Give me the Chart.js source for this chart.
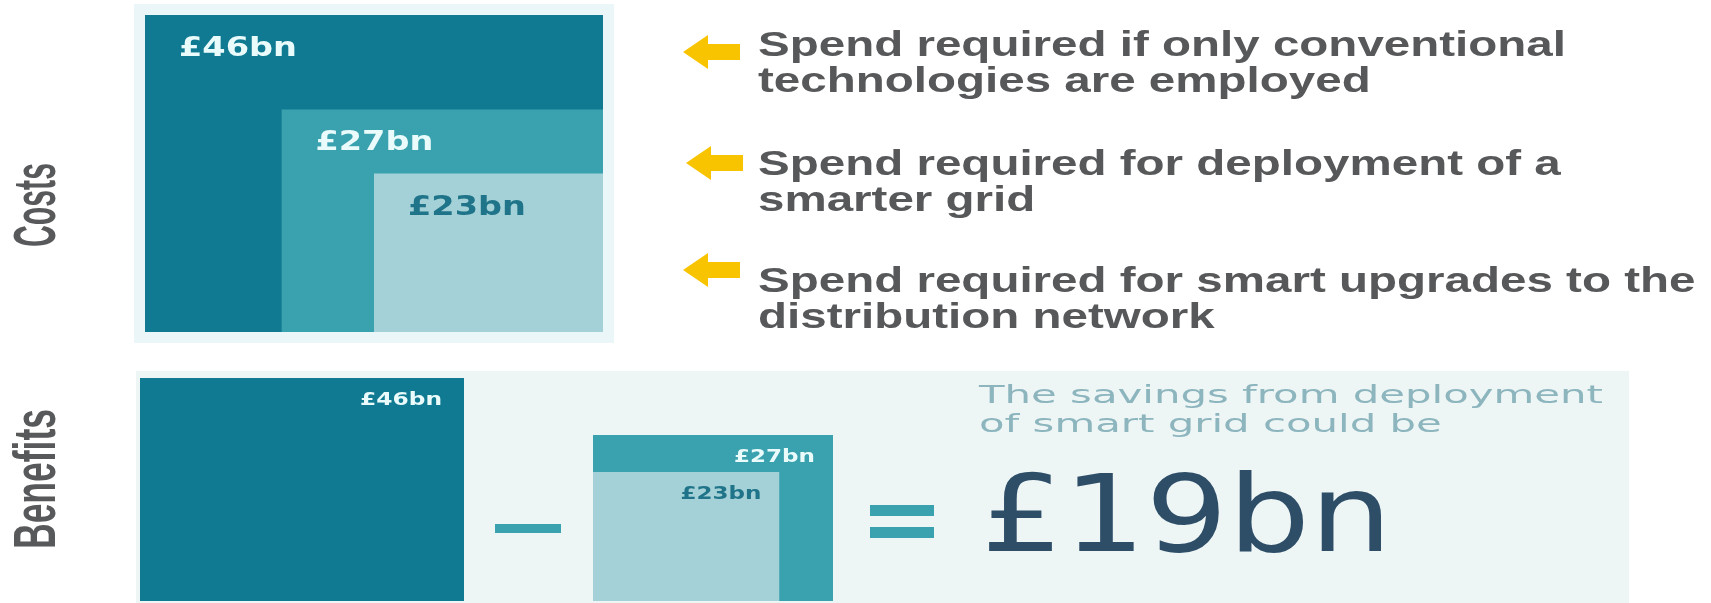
<!DOCTYPE html>
<html>
<head>
<meta charset="utf-8">
<script src="https://cdn.jsdelivr.net/npm/chart.js"></script>
<style>
    html, body { margin: 0; padding: 0; background: #ffffff; }
    #stage { position: relative; width: 1711px; height: 603px; overflow: hidden; }
    #stage canvas { position: absolute; }
</style>
</head>
<body>
<div id="stage">
    <canvas id="deco" width="1711" height="603" style="left:0;top:0"></canvas>
    <canvas id="costChart" width="458" height="317" style="left:145px;top:15px"></canvas>
    <canvas id="benefitChart" width="324" height="223" style="left:140px;top:378px"></canvas>
    <canvas id="smartChart" width="240" height="166" style="left:593px;top:435px"></canvas>
</div>
<script>
// values in £bn
const costValues = [46, 27, 23];
// side of each nested box on the picture, in units where the £46bn box is 46 wide
const costBoxSide = [46, 32.3, 23];
const costNotes = [
    ['Spend required if only conventional', 'technologies are employed'],
    ['Spend required for deployment of a', 'smarter grid'],
    ['Spend required for smart upgrades to the', 'distribution network']
];

const benefitValues = [46];
const benefitBoxSide = [46];
const smartValues = [27, 23];
const smartBoxSide = [34.1, 26.5];

const savingsValue = 19;
const savingsText = ['The savings from deployment', 'of smart grid could be'];

const teal = ['#107a92', '#3aa1af', '#a3d1d7'];
const labelLight = '#eafbfb';
const labelDark = '#1f7489';

function bn(v) { return '£' + v + 'bn'; }

function fitText(ctx, text, x, y, font, color, width, align, k) {
    ctx.save();
    ctx.font = font;
    ctx.fillStyle = color;
    ctx.textBaseline = 'alphabetic';
    ctx.textAlign = align || 'left';
    if (!k) k = width / ctx.measureText(text).width;
    ctx.translate(x, y);
    ctx.scale(k, 1);
    ctx.fillText(text, 0, 0);
    ctx.restore();
    return k;
}

// labels sit in the top corner of each box, found through the chart's scales
const boxLabelPlugin = {
    id: 'boxLabels',
    afterDatasetsDraw(chart, args, opts) {
        const ctx = chart.ctx;
        const xs = chart.scales.x, ys = chart.scales.y;
        chart.data.datasets.forEach((ds, i) => {
            const side = ds.data[1].x;
            const edge = xs.getPixelForValue(side);
            const top = ys.getPixelForValue(ds.data[1].y);
            const x = opts.align === 'left' ? edge + opts.dx : edge - opts.dx;
            fitText(ctx, ds.label, x, top + opts.dy, opts.font, opts.colors[i], opts.width, opts.align);
        });
    }
};

function boxChart(id, values, sides, colors, reverseX, labelOpts) {
    const max = sides[0];
    return new Chart(document.getElementById(id), {
        type: 'line',
        data: {
            datasets: sides.map((s, i) => ({
                label: bn(values[i]),
                data: [{ x: 0, y: s }, { x: s, y: s }],
                backgroundColor: colors[i],
                borderColor: 'rgba(0,0,0,0)',
                borderWidth: 0,
                pointRadius: 0,
                fill: 'origin',
                order: -i
            }))
        },
        options: {
            responsive: false,
            animation: false,
            layout: { padding: 0 },
            scales: {
                x: { type: 'linear', display: false, min: 0, max: max, reverse: reverseX },
                y: { type: 'linear', display: false, min: 0, max: max }
            },
            plugins: {
                legend: { display: false },
                tooltip: { enabled: false },
                boxLabels: labelOpts
            }
        },
        plugins: [boxLabelPlugin]
    });
}

boxChart('costChart', costValues, costBoxSide, teal, true, {
    align: 'left', dx: 34, dy: 41, width: 118,
    font: 'bold 27px "DejaVu Sans"',
    colors: [labelLight, labelLight, labelDark]
});
boxChart('benefitChart', benefitValues, benefitBoxSide, [teal[0]], false, {
    align: 'right', dx: 22, dy: 27, width: 82,
    font: 'bold 17px "DejaVu Sans"',
    colors: [labelLight]
});
boxChart('smartChart', smartValues, smartBoxSide, [teal[1], teal[2]], false, {
    align: 'right', dx: 18, dy: 27, width: 81,
    font: 'bold 17px "DejaVu Sans"',
    colors: [labelLight, labelDark]
});

// panels, notes and the sum
const ctx = document.getElementById('deco').getContext('2d');
ctx.fillStyle = '#eaf6f7';
ctx.fillRect(134, 4, 480, 339);
ctx.fillStyle = '#edf5f5';
ctx.fillRect(136, 371, 1493, 232);

function arrow(tipX, cy) {
    ctx.fillStyle = '#f8c400';
    ctx.beginPath();
    ctx.moveTo(tipX, cy);
    ctx.lineTo(tipX + 25, cy - 17);
    ctx.lineTo(tipX + 25, cy - 8);
    ctx.lineTo(tipX + 57, cy - 8);
    ctx.lineTo(tipX + 57, cy + 8);
    ctx.lineTo(tipX + 25, cy + 8);
    ctx.lineTo(tipX + 25, cy + 17);
    ctx.closePath();
    ctx.fill();
}
arrow(683, 52);
arrow(686, 163);
arrow(683, 270);

const noteFont = 'bold 35px "Liberation Sans", Arial, sans-serif';
const noteBase = [[56, 92], [175, 211], [292, 328]];
let kNote = 0;
costNotes.forEach((lines, p) => {
    lines.forEach((t, j) => {
        if (!kNote) kNote = fitText(ctx, t, 758, noteBase[p][j], noteFont, '#57585a', 808);
        else fitText(ctx, t, 758, noteBase[p][j], noteFont, '#57585a', 0, 'left', kNote);
    });
});

function sideLabel(text, x, yBottom, length) {
    ctx.save();
    ctx.font = 'bold 60px "Liberation Sans", Arial, sans-serif';
    ctx.fillStyle = '#58595b';
    ctx.textBaseline = 'alphabetic';
    const k = length / ctx.measureText(text).width;
    ctx.translate(x, yBottom);
    ctx.rotate(-Math.PI / 2);
    ctx.scale(k, 1);
    ctx.fillText(text, 0, 0);
    ctx.restore();
}
sideLabel('Costs', 55, 247, 84);
sideLabel('Benefits', 55, 549, 140);

ctx.fillStyle = '#3aa1af';
ctx.fillRect(495, 524, 66, 9);
ctx.fillRect(870, 505, 64, 11);
ctx.fillRect(870, 527, 64, 11);

const kSave = fitText(ctx, savingsText[0], 979, 403, '25px "DejaVu Sans"', '#8cb5be', 624);
fitText(ctx, savingsText[1], 979, 432, '25px "DejaVu Sans"', '#8cb5be', 0, 'left', kSave);
fitText(ctx, bn(savingsValue), 981, 551, '107px "DejaVu Sans"', '#2e4e68', 411);
</script>
</body>
</html>
